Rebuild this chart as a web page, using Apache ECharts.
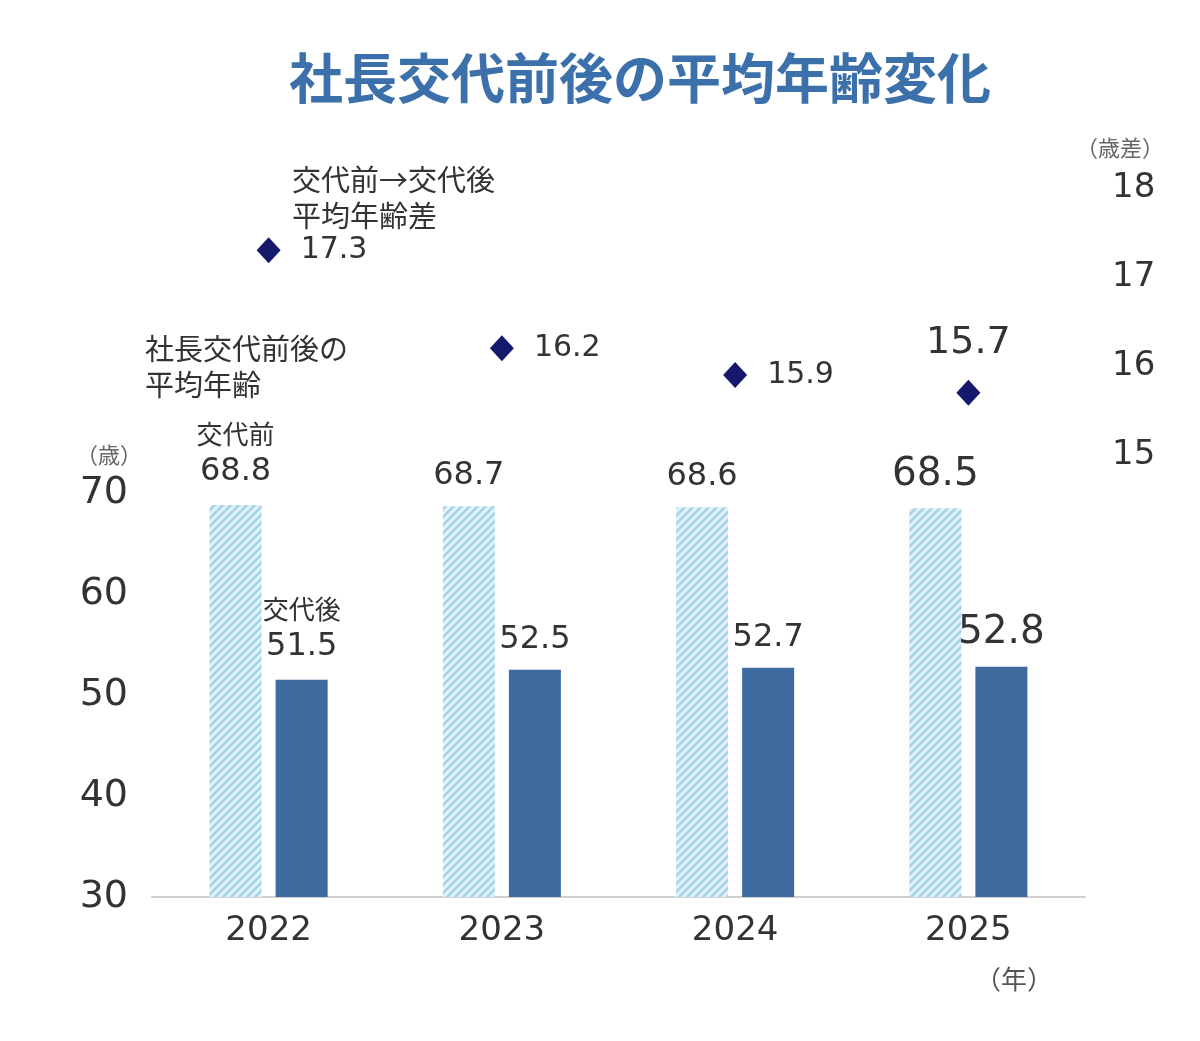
<!DOCTYPE html>
<html><head><meta charset="utf-8">
<script src="https://cdn.jsdelivr.net/npm/echarts@6/dist/echarts.min.js"></script>
<style>html,body{margin:0;padding:0;background:#fff}#c{width:1200px;height:1041px}</style>
</head><body><div id="c"></div>
<script>
const categories = ['2022', '2023', '2024', '2025'];
const beforeAge = [68.8, 68.7, 68.6, 68.5];
const afterAge = [51.5, 52.5, 52.7, 52.8];
const diffAge = [17.3, 16.2, 15.9, 15.7];
const leftTicks = [30, 40, 50, 60, 70];
const rightTicks = [15, 16, 17, 18];

const FONT = '"Noto Sans CJK JP","Noto Sans",sans-serif';
const NUM = '"DejaVu Sans","Noto Sans CJK JP",sans-serif';
const TXT = '#333333';

function hatch() {
  const s = 8, c = document.createElement('canvas');
  c.width = s; c.height = s;
  const g = c.getContext('2d');
  g.fillStyle = '#e3f2f8'; g.fillRect(0, 0, s, s);
  g.strokeStyle = '#a3d3e8'; g.lineWidth = 2.6;
  g.beginPath();
  g.moveTo(-2, s + 2); g.lineTo(s + 2, -2);
  g.moveTo(-2, 2); g.lineTo(2, -2);
  g.moveTo(s - 2, s + 2); g.lineTo(s + 2, s - 2);
  g.stroke();
  return c;
}

const chart = echarts.init(document.getElementById('c'), null, {renderer: 'canvas'});
const last = categories.length - 1;

const bigRich = {
  a: {fontSize: 26, color: TXT, fontFamily: FONT, lineHeight: 38, align: 'center'},
  b: {fontSize: 32, color: TXT, fontFamily: NUM, lineHeight: 38, align: 'center'}
};

const beforeData = beforeAge.map((v, i) => {
  const d = {value: v};
  if (i === 0) d.label = {formatter: '{a|交代前}\n{b|{c}}'};
  if (i === last) d.label = {fontSize: 39, distance: 14};
  return d;
});
const afterData = afterAge.map((v, i) => {
  const d = {value: v};
  if (i === 0) d.label = {formatter: '{a|交代後}\n{b|{c}}'};
  if (i === last) d.label = {fontSize: 39, distance: 14};
  return d;
});
const diffData = diffAge.map((v, i) => {
  const d = {value: v};
  if (i === last) d.label = {position: 'top', distance: 18, fontSize: 38};
  return d;
});

const barLabel = {
  show: true, position: 'top', distance: 14, fontSize: 32, color: TXT, fontFamily: NUM,
  rich: bigRich
};

chart.setOption({
  animation: false,
  title: {
    text: '社長交代前後の平均年齢変化', left: 284, top: 46,
    textStyle: {fontSize: 54, fontWeight: 'bold', color: '#3c70ab', fontFamily: FONT}
  },
  grid: [
    {left: 152, right: 115, top: 493, height: 404},
    {left: 152, right: 115, top: 188, height: 267}
  ],
  xAxis: [
    {type: 'category', gridIndex: 0, data: categories,
     axisLine: {lineStyle: {color: '#d0d0d0', width: 2}}, axisTick: {show: false},
     axisLabel: {fontSize: 34, color: TXT, margin: 17, fontFamily: NUM}},
    {type: 'category', gridIndex: 1, data: categories, show: false}
  ],
  yAxis: [
    {type: 'value', gridIndex: 0, min: leftTicks[0], max: leftTicks[leftTicks.length - 1], interval: 10,
     splitLine: {show: false}, axisLine: {show: false}, axisTick: {show: false},
     axisLabel: {fontSize: 38, color: TXT, margin: 24, fontFamily: NUM, padding: [4, 0, 0, 0]}},
    {type: 'value', gridIndex: 1, position: 'right', min: rightTicks[0], max: rightTicks[rightTicks.length - 1], interval: 1,
     splitLine: {show: false}, axisLine: {show: false}, axisTick: {show: false},
     axisLabel: {fontSize: 34, color: TXT, margin: 27, fontFamily: NUM, padding: [4, 0, 0, 0]}}
  ],
  series: [
    {type: 'bar', name: '交代前', xAxisIndex: 0, yAxisIndex: 0, data: beforeData,
     barWidth: 52, barGap: '27%', itemStyle: {color: {image: hatch(), repeat: 'repeat'}},
     label: barLabel},
    {type: 'bar', name: '交代後', xAxisIndex: 0, yAxisIndex: 0, data: afterData,
     barWidth: 52, itemStyle: {color: '#3d6a9f'}, label: barLabel},
    {type: 'scatter', name: '平均年齢差', xAxisIndex: 1, yAxisIndex: 1, data: diffData,
     symbol: 'diamond', symbolSize: [24, 26], itemStyle: {color: '#15196b', opacity: 1},
     label: {show: true, position: 'right', distance: 20, fontSize: 30, color: TXT, fontFamily: NUM, padding: [6, 0, 0, 0]}}
  ],
  graphic: [
    {type: 'text', left: 292, top: 162, style: {text: '交代前→交代後\n平均年齢差', fontSize: 29, lineHeight: 36, fill: TXT, fontFamily: FONT}},
    {type: 'text', left: 145, top: 331, style: {text: '社長交代前後の\n平均年齢', fontSize: 29, lineHeight: 36, fill: TXT, fontFamily: FONT}},
    {type: 'text', left: 76, top: 444, style: {text: '（歳）', fontSize: 22, fill: '#666', fontFamily: FONT}},
    {type: 'text', left: 1076, top: 137, style: {text: '（歳差）', fontSize: 22, fill: '#666', fontFamily: FONT}},
    {type: 'text', left: 975, top: 966, style: {text: '（年）', fontSize: 26, fill: '#555', fontFamily: FONT}}
  ]
});
</script></body></html>
